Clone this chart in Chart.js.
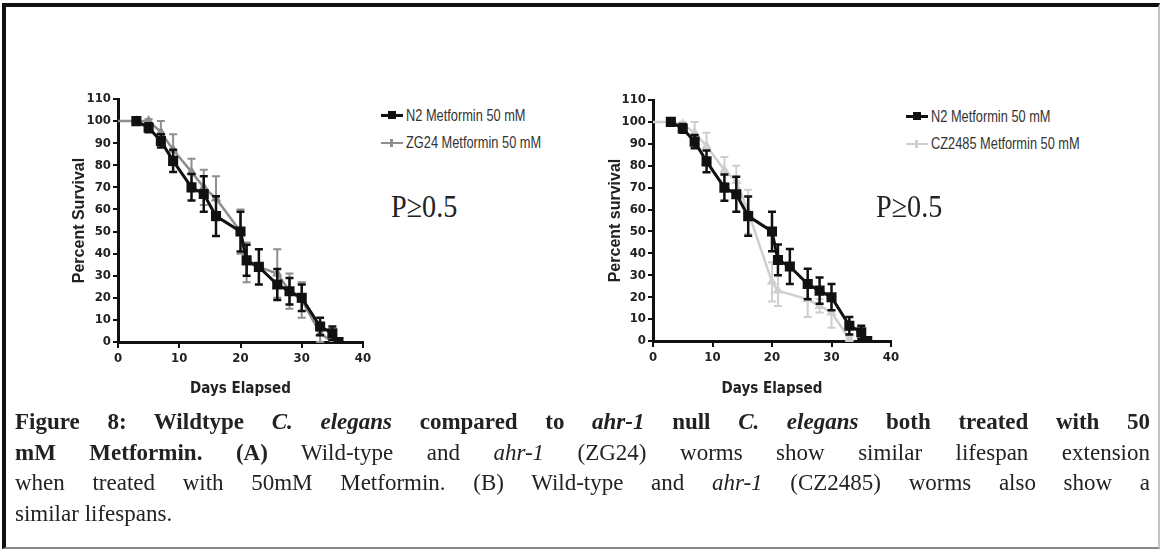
<!DOCTYPE html>
<html>
<head>
<meta charset="utf-8">
<script src="https://cdn.jsdelivr.net/npm/chart.js@4.4.0/dist/chart.umd.min.js"></script>
<style>
  body { margin: 0; width: 1164px; height: 559px; background: #fff; position: relative; overflow: hidden;
         font-family: "Liberation Sans", Arial, sans-serif; }
  #frame { position: absolute; left: 2px; top: 3px; width: 1158px; height: 546px; box-sizing: border-box;
           border-left: 4px solid #111; border-top: 4px solid #111; border-right: 2px solid #c4c4c4; border-bottom: 2px solid #8a8a8a; }
  canvas { position: absolute; }
  .legend { position: absolute; font-size: 16px; color: #333; }
  .legend div { height: 27px; display: flex; align-items: center; white-space: nowrap; }
  .legend span.t { display: inline-block; transform: scaleX(0.8); transform-origin: left center; }
  .mk { display: inline-block; width: 22px; height: 3px; position: relative; margin-right: 3px; }
  .mk i { position: absolute; left: 7px; top: -3px; width: 8px; height: 8px; }
  .pval { position: absolute; font-family: "Liberation Serif", "Times New Roman", serif; font-size: 32px; line-height: 32px;
          color: #222; transform: scaleX(0.88); transform-origin: left top; }
  #caption { position: absolute; left: 15px; top: 407px; width: 1135px; font-family: "Liberation Serif", "Times New Roman", serif;
             font-size: 23px; line-height: 30.5px; color: #222; }
  #caption .j { text-align: justify; text-align-last: justify; white-space: nowrap; }
</style>
</head>
<body>
<div id="frame"></div>

<canvas id="chartA" width="320" height="320" style="left:60px;top:88px"></canvas>
<canvas id="chartB" width="310" height="320" style="left:595px;top:88px"></canvas>

<div class="legend" style="left:381px;top:102px">
  <div><span class="mk" style="background:#111"><i style="background:#111"></i></span><span class="t">N2 Metformin 50 mM</span></div>
  <div><span class="mk" style="background:#8f8f8f;height:2px"><i style="background:#8f8f8f;width:3px;left:9px;top:-3px;height:8px"></i></span><span class="t">ZG24 Metformin 50 mM</span></div>
</div>
<div class="legend" style="left:906px;top:103px">
  <div><span class="mk" style="background:#111"><i style="background:#111"></i></span><span class="t">N2 Metformin 50 mM</span></div>
  <div><span class="mk" style="background:#cfcfcf;height:2px"><i style="background:#cfcfcf;width:3px;left:9px;top:-3px;height:8px"></i></span><span class="t">CZ2485 Metformin 50 mM</span></div>
</div>

<div class="pval" style="left:391px;top:190px">P≥0.5</div>
<div class="pval" style="left:876px;top:190px">P≥0.5</div>

<div id="caption">
  <div class="j"><b>Figure 8: Wildtype <i>C. elegans</i> compared to <i>ahr-1</i> null <i>C. elegans</i> both treated with 50</b></div>
  <div class="j"><b>mM Metformin. (A)</b> Wild-type and <i>ahr-1</i> (ZG24) worms show similar lifespan extension</div>
  <div class="j">when treated with 50mM Metformin. (B) Wild-type and <i>ahr-1</i> (CZ2485) worms also show a</div>
  <div>similar lifespans.</div>
</div>

<script>
// N2 (wild type) on 50 mM metformin - same curve in both panels
const n2Days     = [3, 5, 7, 9, 12, 14, 16, 20, 21, 23, 26, 28, 30, 33, 35, 36];
const n2Survival = [100, 97, 91, 82, 70, 67, 57, 50, 37, 34, 26, 23, 20, 7, 4, 0];
const n2Sem      = [1.5, 2, 3, 5, 6, 8, 9, 9, 7, 8, 7, 6, 6, 4, 3, 0];

// ZG24 (panel A)
const zg24Days     = [0, 3, 5, 7, 9, 12, 14, 16, 20, 21, 26, 28, 30, 33, 35];
const zg24Survival = [100, 100, 100, 95, 87, 77, 70, 65, 50, 36, 31, 23, 19, 4, 0];
const zg24Sem      = [0, 1, 1, 5, 7, 6, 8, 10, 10, 9, 11, 8, 8, 4, 0];

// CZ2485 (panel B)
const czDays     = [0, 3, 5, 7, 9, 12, 14, 16, 20, 21, 26, 28, 30, 33];
const czSurvival = [100, 100, 99, 95, 89, 78, 73, 59, 27, 23, 19, 16, 13, 1];
const czSem      = [0, 1, 1, 5, 6, 6, 7, 10, 9, 7, 8, 3, 7, 1];

const xTicks = [0, 10, 20, 30, 40];
const yMax = 110;

const toPoints = (xs, ys) => xs.map((x, i) => ({ x: x, y: ys[i] }));

// vertical error bars (SEM), drawn right after each dataset so stacking matches the lines
const errorBars = {
  id: 'errorBars',
  afterDatasetDraw(chart, args) {
    const ds = chart.data.datasets[args.index];
    if (!ds.errors) return;
    const yScale = chart.scales.y;
    const ctx = chart.ctx;
    ctx.save();
    ctx.strokeStyle = ds.borderColor;
    ctx.lineWidth = ds.errorWidth;
    args.meta.data.forEach((pt, i) => {
      const e = ds.errors[i];
      if (!e) return;
      const v = ds.data[i].y;
      const top = yScale.getPixelForValue(v + e);
      const bot = yScale.getPixelForValue(Math.max(0, v - e));
      ctx.beginPath();
      ctx.moveTo(pt.x, top); ctx.lineTo(pt.x, bot);
      ctx.moveTo(pt.x - 4, top); ctx.lineTo(pt.x + 4, top);
      ctx.moveTo(pt.x - 4, bot); ctx.lineTo(pt.x + 4, bot);
      ctx.stroke();
    });
    ctx.restore();
  }
};

const narrow = '"Liberation Sans Narrow", "DejaVu Sans Condensed", "Liberation Sans", Arial';
const tickFont = { family: narrow, size: 13, weight: 'bold' };

function makeChart(id, yTitle, other, box) {
  new Chart(document.getElementById(id), {
    type: 'line',
    data: {
      datasets: [
        {
          label: 'N2 Metformin 50 mM',
          data: toPoints(n2Days, n2Survival),
          errors: n2Sem,
          errorWidth: 2.5,
          borderColor: '#111',
          backgroundColor: '#111',
          borderWidth: 3,
          pointStyle: 'rect',
          pointRadius: 5,
          tension: 0
        },
        {
          label: other.label,
          data: toPoints(other.days, other.values),
          errors: other.errors,
          errorWidth: 2,
          borderColor: other.color,
          backgroundColor: other.color,
          borderWidth: 2.5,
          pointStyle: 'triangle',
          pointRadius: ctx => (ctx.raw && ctx.raw.x === 0 ? 0 : 3.5),
          tension: 0
        }
      ]
    },
    options: {
      responsive: false,
      animation: false,
      layout: { padding: { top: box.top, right: box.right, left: 0, bottom: 0 } },
      plugins: { legend: { display: false }, tooltip: { enabled: false } },
      scales: {
        x: {
          type: 'linear', min: 0, max: 40,
          afterBuildTicks: s => { s.ticks = xTicks.map(v => ({ value: v })); },
          afterFit: s => { s.height = box.h; },
          ticks: { font: tickFont, color: '#222', padding: 3, maxRotation: 0 },
          grid: { drawOnChartArea: false, drawTicks: true, tickLength: 6, color: '#111', lineWidth: 2 },
          border: { display: true, color: '#111', width: 3 },
          title: { display: true, text: 'Days Elapsed', color: '#222',
                   font: { family: narrow, size: 15, weight: 'bold' }, padding: { top: 0, bottom: 10 } }
        },
        y: {
          type: 'linear', min: 0, max: yMax,
          ticks: { stepSize: 10, font: tickFont, color: '#222', padding: 2 },
          afterFit: s => { s.width = 58; },
          grid: { drawOnChartArea: false, drawTicks: true, tickLength: 5, color: '#111', lineWidth: 2 },
          border: { display: true, color: '#111', width: 3 },
          title: { display: true, text: yTitle, color: '#222',
                   font: { family: '"Liberation Sans", Arial', size: 16, weight: 'bold' }, padding: { top: box.titlePad, bottom: 0 } }
        }
      }
    },
    plugins: [errorBars]
  });
}

makeChart('chartA', 'Percent Survival',
  { label: 'ZG24 Metformin 50 mM', days: zg24Days, values: zg24Survival, errors: zg24Sem, color: '#8f8f8f' },
  { top: 11, right: 17, h: 66, titlePad: 10 });

makeChart('chartB', 'Percent survival',
  { label: 'CZ2485 Metformin 50 mM', days: czDays, values: czSurvival, errors: czSem, color: '#cfcfcf' },
  { top: 12, right: 14, h: 67, titlePad: 11 });
</script>
</body>
</html>
